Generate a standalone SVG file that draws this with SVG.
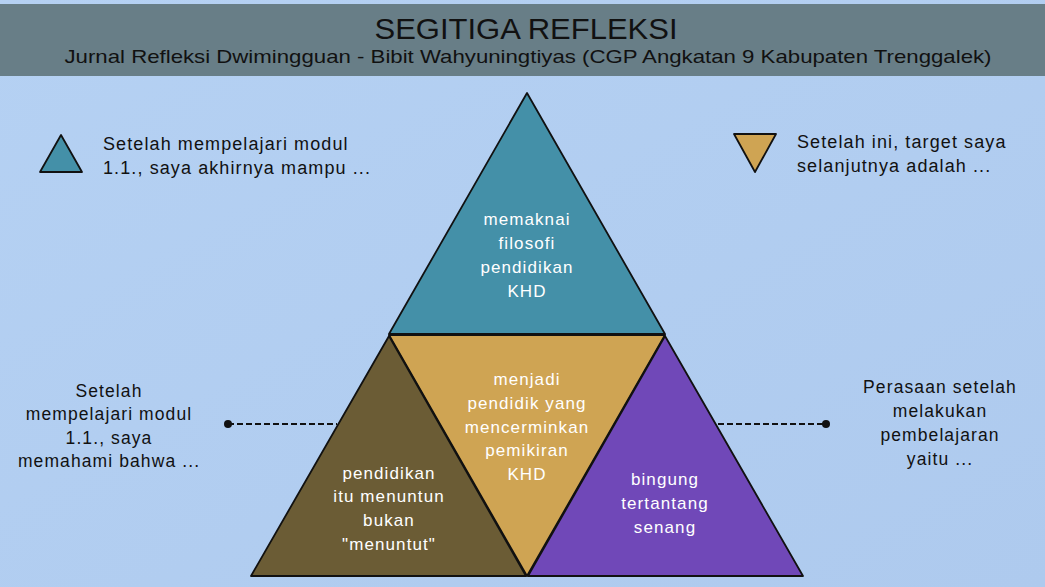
<svg xmlns="http://www.w3.org/2000/svg" width="1045" height="587" viewBox="0 0 1045 587">
<defs>
<linearGradient id="bg" x1="0" y1="0" x2="1" y2="1">
<stop offset="0" stop-color="#B5D1F3"/>
<stop offset="1" stop-color="#AECAEE"/>
</linearGradient>
<style>
.t{font-family:"Liberation Sans","DejaVu Sans",sans-serif;font-size:17.5px;letter-spacing:1.1px;fill:#111;text-anchor:middle}
.l{font-family:"Liberation Sans","DejaVu Sans",sans-serif;font-size:18px;letter-spacing:1.1px;fill:#111}
.w{font-family:"Liberation Sans","DejaVu Sans",sans-serif;font-size:17px;letter-spacing:1.1px;fill:#fff;text-anchor:middle}
.tri{stroke:#111;stroke-width:1.8;stroke-linejoin:round}
.dash{stroke:#111;stroke-width:1.8;stroke-dasharray:6 3;fill:none}
</style>
</defs>
<rect width="1045" height="587" fill="url(#bg)"/>
<g id="header">
<rect x="0" y="4" width="1045" height="72" fill="#687E87"/>
<text x="526" y="39" textLength="303" lengthAdjust="spacingAndGlyphs" style="font-family:'Liberation Sans','DejaVu Sans',sans-serif;font-size:29px;fill:#111;text-anchor:middle">SEGITIGA REFLEKSI</text>
<text x="528" y="63" textLength="927" lengthAdjust="spacingAndGlyphs" style="font-family:'Liberation Sans','DejaVu Sans',sans-serif;font-size:19px;fill:#111;text-anchor:middle">Jurnal Refleksi Dwimingguan - Bibit Wahyuningtiyas (CGP Angkatan 9 Kabupaten Trenggalek)</text>
</g>
<g id="legend-left">
<polygon class="tri" points="61,135 40,172 82,172" fill="#4490A8"/>
<text class="l" x="103" y="150">Setelah mempelajari modul</text>
<text class="l" x="103" y="174">1.1., saya akhirnya mampu ...</text>
</g>
<g id="legend-right">
<polygon class="tri" points="734,134 776,134 755,172" fill="#CFA453"/>
<text class="l" x="797" y="148">Setelah ini, target saya</text>
<text class="l" x="797" y="172">selanjutnya adalah ...</text>
</g>
<g id="label-left">
<text class="t" x="109" y="397">Setelah</text>
<text class="t" x="109" y="420">mempelajari modul</text>
<text class="t" x="109" y="444">1.1., saya</text>
<text class="t" x="109" y="467">memahami bahwa ...</text>
</g>
<g id="label-right">
<text class="t" x="940" y="393">Perasaan setelah</text>
<text class="t" x="940" y="417">melakukan</text>
<text class="t" x="940" y="441">pembelajaran</text>
<text class="t" x="940" y="465">yaitu ...</text>
</g>
<g id="connectors">
<line class="dash" x1="228" y1="424" x2="337" y2="424"/>
<circle cx="228" cy="424" r="4" fill="#111"/>
<line class="dash" x1="718" y1="424" x2="826" y2="424"/>
<circle cx="826" cy="424" r="4" fill="#111"/>
</g>
<g id="tri-top">
<polygon class="tri" points="527,93 389,334 665,334" fill="#4490A8"/>
<text class="w" x="527" y="225">memaknai</text>
<text class="w" x="527" y="249">filosofi</text>
<text class="w" x="527" y="273">pendidikan</text>
<text class="w" x="527" y="297">KHD</text>
</g>
<g id="tri-middle">
<polygon class="tri" points="389,335 665,335 527,576" fill="#CFA453"/>
<text class="w" x="527" y="385">menjadi</text>
<text class="w" x="527" y="409">pendidik yang</text>
<text class="w" x="527" y="433">mencerminkan</text>
<text class="w" x="527" y="456">pemikiran</text>
<text class="w" x="527" y="480">KHD</text>
</g>
<g id="tri-left">
<polygon class="tri" points="389,336 251,576 526,576" fill="#6B5C35"/>
<text class="w" x="389" y="479">pendidikan</text>
<text class="w" x="389" y="502">itu menuntun</text>
<text class="w" x="389" y="526">bukan</text>
<text class="w" x="389" y="550">"menuntut"</text>
</g>
<g id="tri-right">
<polygon class="tri" points="665,336 528,576 803,576" fill="#7048B8"/>
<text class="w" x="665" y="485">bingung</text>
<text class="w" x="665" y="509">tertantang</text>
<text class="w" x="665" y="533">senang</text>
</g>
</svg>
